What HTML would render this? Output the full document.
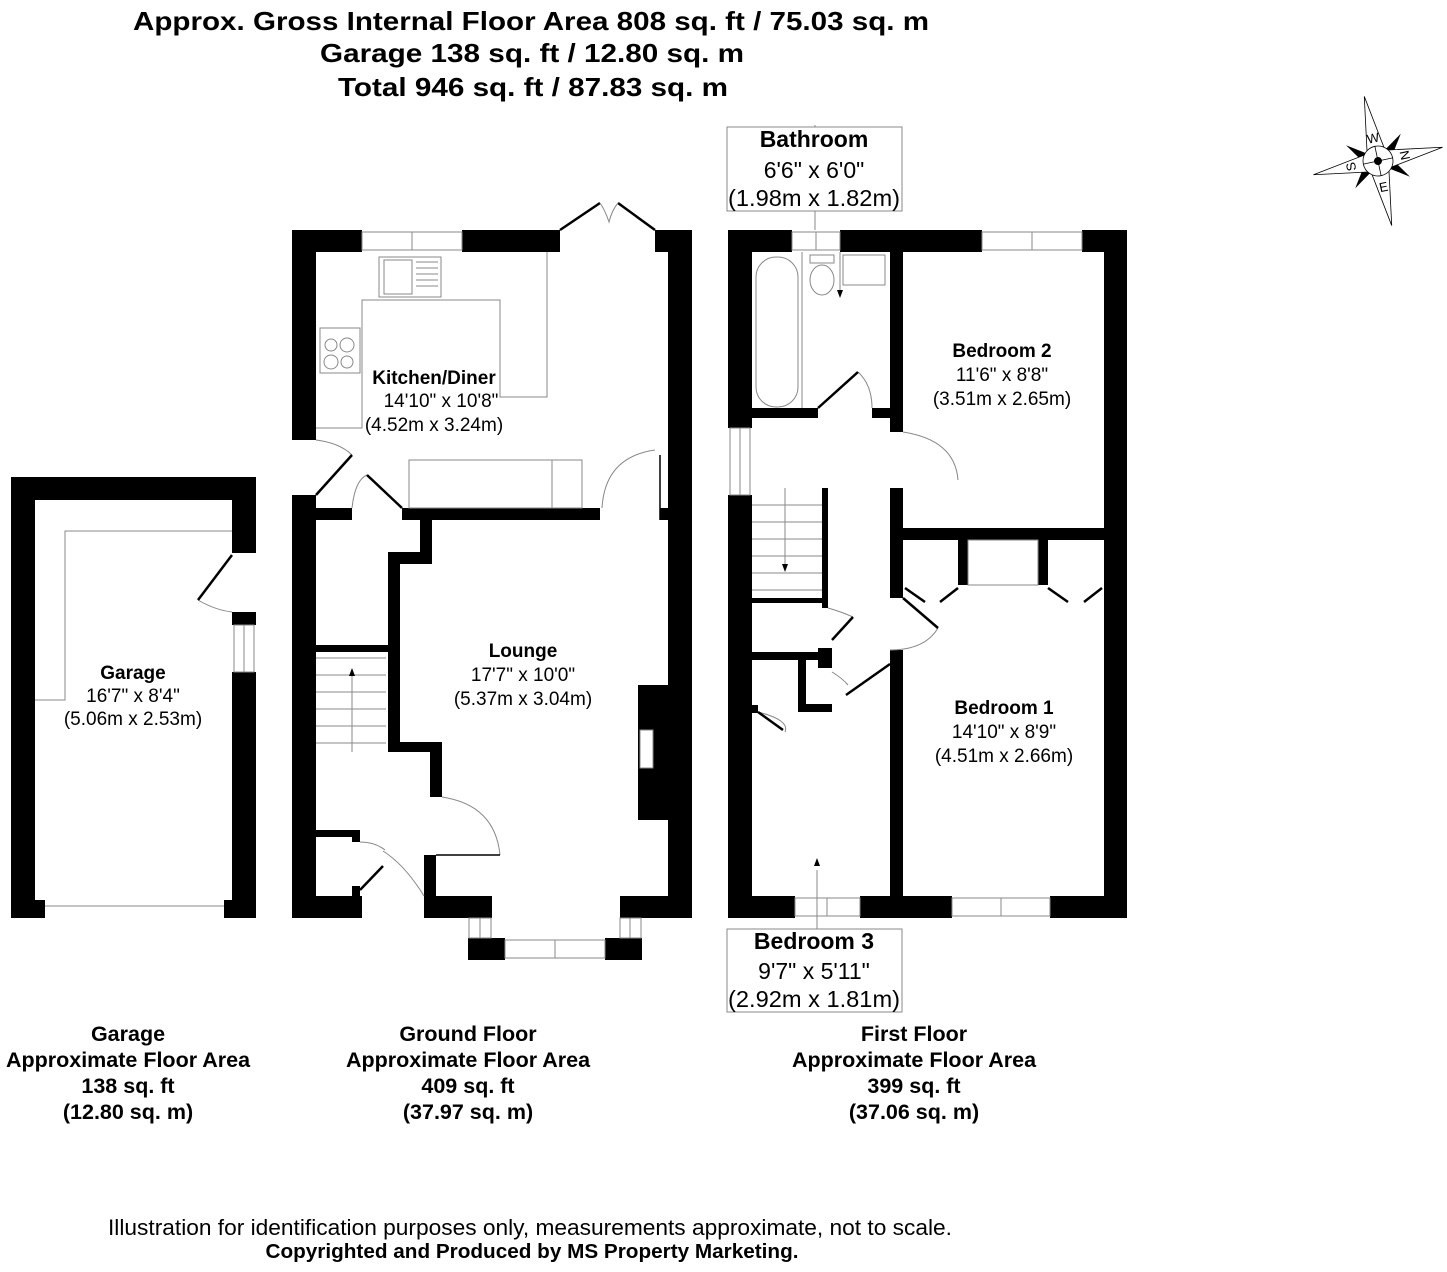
<!DOCTYPE html>
<html><head><meta charset="utf-8"><style>
html,body{margin:0;padding:0;background:#fff;}
svg{display:block;}
text{font-family:"Liberation Sans",Arial,sans-serif;fill:#000;}
</style></head><body>
<svg width="1447" height="1272" viewBox="0 0 1447 1272" xmlns="http://www.w3.org/2000/svg">
<g font-size="26" text-anchor="middle" font-weight="bold">
<text x="531" y="30" textLength="796" lengthAdjust="spacingAndGlyphs">Approx. Gross Internal Floor Area 808 sq. ft / 75.03 sq. m</text>
<text x="532" y="62" textLength="424" lengthAdjust="spacingAndGlyphs">Garage 138 sq. ft / 12.80 sq. m</text>
<text x="533" y="96" textLength="390" lengthAdjust="spacingAndGlyphs">Total 946 sq. ft / 87.83 sq. m</text>
</g>

<!-- GARAGE -->
<g fill="#000">
<rect x="11" y="477" width="24" height="441"/>
<rect x="11" y="477" width="245" height="23"/>
<rect x="232" y="477" width="24" height="76"/>
<rect x="232" y="612" width="24" height="13"/>
<rect x="232" y="672" width="24" height="246"/>
<rect x="11" y="900" width="34" height="18"/>
<rect x="224" y="900" width="32" height="18"/>
</g>
<g fill="none" stroke="#888" stroke-width="1">
<polyline points="35,700 65,700 65,531 232,531"/>
<line x1="45" y1="906" x2="224" y2="906"/>
<rect x="234" y="625" width="20" height="47"/><line x1="244" y1="625" x2="244" y2="672"/>
<path d="M198,600 Q215,610 232,612"/>
</g>
<line x1="232" y1="555" x2="198" y2="600" stroke="#000" stroke-width="2.5"/>

<!-- GROUND FLOOR walls -->
<g fill="#000">
<rect x="292" y="230" width="24" height="210"/>
<rect x="292" y="230" width="70" height="22"/>
<rect x="462" y="230" width="98" height="22"/>
<rect x="655" y="230" width="37" height="22"/>
<rect x="668" y="230" width="24" height="688"/>
<rect x="292" y="495" width="24" height="423"/>
<rect x="292" y="896" width="70" height="22"/>
<rect x="424" y="896" width="68" height="22"/>
<rect x="620" y="896" width="72" height="22"/>
<rect x="468" y="938" width="37" height="22"/>
<rect x="605" y="938" width="37" height="22"/>
<rect x="316" y="508" width="36" height="12"/>
<rect x="402" y="508" width="198" height="12"/>
<rect x="660" y="508" width="8" height="12"/>
<rect x="420" y="508" width="12" height="47"/>
<rect x="388" y="552" width="44" height="12"/>
<rect x="388" y="552" width="12" height="200"/>
<rect x="388" y="742" width="54" height="10"/>
<rect x="430" y="742" width="12" height="55"/>
<rect x="424" y="855" width="12" height="41"/>
<rect x="316" y="645" width="72" height="7"/>
<rect x="316" y="830" width="42" height="7"/>
<rect x="352" y="830" width="8" height="12"/>
<rect x="352" y="886" width="8" height="10"/>
<rect x="638" y="685" width="30" height="135"/>
</g>
<rect x="640" y="730" width="13" height="38" fill="#fff" stroke="#888" stroke-width="1"/>
<g fill="none" stroke="#888" stroke-width="1">
<rect x="362" y="232" width="100" height="18"/><line x1="412" y1="232" x2="412" y2="250"/>
<rect x="505" y="940" width="100" height="18"/><line x1="555" y1="940" x2="555" y2="958"/>
<rect x="469" y="918" width="22" height="20"/><line x1="480" y1="918" x2="480" y2="938"/>
<rect x="620" y="918" width="21" height="20"/><line x1="630" y1="918" x2="630" y2="938"/>
<polyline points="316,428 362,428 362,300 500,300 500,397 547,397 547,252"/>
<rect x="379" y="257" width="62" height="40"/><rect x="384" y="260" width="28" height="34"/>
<line x1="416" y1="262" x2="438" y2="262"/><line x1="416" y1="268" x2="438" y2="268"/><line x1="416" y1="274" x2="438" y2="274"/><line x1="416" y1="280" x2="438" y2="280"/><line x1="416" y1="286" x2="438" y2="286"/>
<rect x="320" y="328" width="40" height="45"/>
<circle cx="331" cy="345" r="6"/><circle cx="347" cy="345" r="7"/><circle cx="331" cy="362" r="7"/><circle cx="347" cy="362" r="6"/>
<rect x="409" y="460" width="173" height="48"/><line x1="552" y1="460" x2="552" y2="508"/>
<path d="M316,440 Q340,443 352,455"/>
<path d="M352,508 Q355,480 367,475"/>
<path d="M602,508 Q605,457 655,450"/>
<path d="M442,797 Q495,805 500,855"/>
<path d="M383,851 Q405,865 424,896"/>
<path d="M360,842 Q375,842 385,850"/>
<line x1="316" y1="658" x2="386" y2="658"/><line x1="316" y1="675" x2="386" y2="675"/>
<line x1="316" y1="692" x2="386" y2="692"/><line x1="316" y1="709" x2="386" y2="709"/>
<line x1="316" y1="726" x2="386" y2="726"/><line x1="316" y1="743" x2="386" y2="743"/>
<line x1="352" y1="672" x2="352" y2="752"/>
</g>
<g stroke="#000" stroke-width="2.5" fill="none">
<line x1="316" y1="495" x2="352" y2="455"/>
<line x1="367" y1="475" x2="402" y2="508"/>
<line x1="560" y1="230" x2="600" y2="203"/>
<line x1="655" y1="230" x2="618" y2="203"/>
<line x1="360" y1="890" x2="383" y2="866"/>
<line x1="436" y1="855" x2="500" y2="855" stroke-width="1.5"/>
<line x1="660" y1="520" x2="660" y2="455" stroke-width="1.5"/>
</g>
<path d="M600,203 Q605,210 609,222 Q612,210 618,203" fill="none" stroke="#888"/>
<path d="M352,668 l-3,8 h6z" fill="#000"/>

<!-- FIRST FLOOR -->
<g fill="#000">
<rect x="728" y="230" width="24" height="198"/>
<rect x="728" y="495" width="24" height="423"/>
<rect x="728" y="230" width="64" height="22"/>
<rect x="840" y="230" width="142" height="22"/>
<rect x="1082" y="230" width="45" height="22"/>
<rect x="1104" y="230" width="23" height="688"/>
<rect x="728" y="896" width="67" height="22"/>
<rect x="860" y="896" width="92" height="22"/>
<rect x="1050" y="896" width="77" height="22"/>
<rect x="752" y="408" width="66" height="10"/>
<rect x="872" y="408" width="31" height="10"/>
<rect x="890" y="252" width="13" height="180"/>
<rect x="890" y="488" width="13" height="110"/>
<rect x="903" y="528" width="201" height="12"/>
<rect x="958" y="540" width="10" height="45"/>
<rect x="1038" y="540" width="10" height="45"/>
<rect x="890" y="650" width="13" height="246"/>
<rect x="822" y="488" width="6" height="120"/>
<rect x="752" y="598" width="70" height="5"/>
<rect x="752" y="652" width="70" height="8"/>
<rect x="818" y="648" width="14" height="20"/>
<rect x="798" y="660" width="8" height="50"/>
<rect x="798" y="704" width="34" height="8"/>
<rect x="752" y="705" width="6" height="8"/>
</g>
<g fill="none" stroke="#888" stroke-width="1">
<rect x="792" y="232" width="48" height="18"/><line x1="816" y1="232" x2="816" y2="250"/>
<rect x="982" y="232" width="100" height="18"/><line x1="1032" y1="232" x2="1032" y2="250"/>
<rect x="795" y="898" width="65" height="18"/><line x1="827" y1="898" x2="827" y2="916"/>
<rect x="952" y="898" width="98" height="18"/><line x1="1001" y1="898" x2="1001" y2="916"/>
<rect x="730" y="428" width="20" height="67"/><line x1="740" y1="428" x2="740" y2="495"/>
<rect x="756" y="257" width="42" height="150" rx="20"/>
<line x1="802" y1="252" x2="802" y2="408"/>
<ellipse cx="822" cy="280" rx="12" ry="15"/><rect x="810" y="255" width="24" height="8"/>
<rect x="843" y="255" width="42" height="30"/>
<rect x="968" y="540" width="70" height="45"/>
<path d="M858,372 Q872,385 872,408"/>
<path d="M903,432 Q955,440 958,480"/>
<path d="M890,650 Q925,650 938,628"/>
<path d="M828,608 Q842,612 853,617"/>
<path d="M832,672 Q842,678 848,685"/>
<path d="M758,712 Q790,720 785,732"/>
<line x1="752" y1="505" x2="822" y2="505"/><line x1="752" y1="522" x2="822" y2="522"/>
<line x1="752" y1="539" x2="822" y2="539"/><line x1="752" y1="556" x2="822" y2="556"/>
<line x1="752" y1="573" x2="822" y2="573"/><line x1="752" y1="590" x2="822" y2="590"/>
<line x1="785" y1="488" x2="785" y2="565"/>
<line x1="817" y1="870" x2="817" y2="935"/>
<line x1="840" y1="252" x2="840" y2="290"/>
<line x1="815" y1="125" x2="815" y2="230"/>
</g>
<g stroke="#000" stroke-width="2.5" fill="none">
<line x1="818" y1="408" x2="858" y2="372"/>
<line x1="903" y1="598" x2="938" y2="628"/>
<line x1="832" y1="640" x2="853" y2="617"/>
<line x1="846" y1="695" x2="890" y2="664"/>
<line x1="758" y1="712" x2="783" y2="730"/>
<line x1="905" y1="588" x2="925" y2="602"/><line x1="958" y1="588" x2="940" y2="602"/>
<line x1="1048" y1="588" x2="1068" y2="602"/><line x1="1102" y1="588" x2="1084" y2="602"/>
</g>
<path d="M785,572 l-3,-8 h6z M840,298 l-3,-8 h6z M817,858 l-3,8 h6z" fill="#000"/>

<rect x="727" y="127" width="175" height="84" fill="#fff" stroke="#888"/>
<rect x="727" y="929" width="175" height="83" fill="#fff" stroke="#888"/>
<g text-anchor="middle" font-size="23">
<text x="814" y="147" font-weight="bold">Bathroom</text>
<text x="814" y="178">6'6" x 6'0"</text>
<text x="814" y="206" textLength="172" lengthAdjust="spacingAndGlyphs">(1.98m x 1.82m)</text>
<text x="814" y="949" font-weight="bold">Bedroom 3</text>
<text x="814" y="979">9'7" x 5'11"</text>
<text x="814" y="1007" textLength="172" lengthAdjust="spacingAndGlyphs">(2.92m x 1.81m)</text>
</g>

<g text-anchor="middle" font-size="19">
<text x="434" y="384" font-weight="bold">Kitchen/Diner</text>
<text x="441" y="407">14'10" x 10'8"</text>
<text x="434" y="431">(4.52m x 3.24m)</text>
<text x="523" y="657" font-weight="bold">Lounge</text>
<text x="523" y="681">17'7" x 10'0"</text>
<text x="523" y="705">(5.37m x 3.04m)</text>
<text x="133" y="679" font-weight="bold">Garage</text>
<text x="133" y="702">16'7" x 8'4"</text>
<text x="133" y="725">(5.06m x 2.53m)</text>
<text x="1002" y="357" font-weight="bold">Bedroom 2</text>
<text x="1002" y="381">11'6" x 8'8"</text>
<text x="1002" y="405">(3.51m x 2.65m)</text>
<text x="1004" y="714" font-weight="bold">Bedroom 1</text>
<text x="1004" y="738">14'10" x 8'9"</text>
<text x="1004" y="762">(4.51m x 2.66m)</text>
</g>

<g text-anchor="middle" font-size="21.5" font-weight="bold">
<text x="128" y="1041">Garage</text><text x="128" y="1067">Approximate Floor Area</text>
<text x="128" y="1093">138 sq. ft</text><text x="128" y="1119">(12.80 sq. m)</text>
<text x="468" y="1041">Ground Floor</text><text x="468" y="1067">Approximate Floor Area</text>
<text x="468" y="1093">409 sq. ft</text><text x="468" y="1119">(37.97 sq. m)</text>
<text x="914" y="1041">First Floor</text><text x="914" y="1067">Approximate Floor Area</text>
<text x="914" y="1093">399 sq. ft</text><text x="914" y="1119">(37.06 sq. m)</text>
</g>
<text x="530" y="1235" text-anchor="middle" font-size="22" textLength="844" lengthAdjust="spacingAndGlyphs">Illustration for identification purposes only, measurements approximate, not to scale.</text>
<text x="532" y="1258" text-anchor="middle" font-size="20" font-weight="bold" textLength="533" lengthAdjust="spacingAndGlyphs">Copyrighted  and Produced by MS Property Marketing.</text>

<g transform="translate(1378,161) rotate(-12)">
<g fill="#000">
<polygon points="-10,-10 -28,-22 -16,-4"/>
<polygon points="10,-10 28,-22 16,-4"/>
<polygon points="10,10 28,22 16,4"/>
<polygon points="-10,10 -28,22 -16,4"/>
</g>
<g fill="#fff" stroke="#000" stroke-width="0.8">
<polygon points="0,-66 9,-10 -9,-10"/>
<polygon points="66,0 10,9 10,-9"/>
<polygon points="0,66 9,10 -9,10"/>
<polygon points="-66,0 -10,9 -10,-9"/>
<circle r="15"/>
</g>
<line x1="-15" y1="0" x2="15" y2="0" stroke="#000" stroke-width="0.8"/>
<line x1="0" y1="-15" x2="0" y2="15" stroke="#000" stroke-width="0.8"/>
<circle r="4" fill="#000"/>
<g font-size="13" text-anchor="middle">
<text x="0" y="-19">W</text>
<text x="28" y="5" transform="rotate(90 28 0)">N</text>
<text x="0" y="31">E</text>
<text x="-28" y="5" transform="rotate(-90 -28 0)">S</text>
</g>
</g>
</svg>
</body></html>
